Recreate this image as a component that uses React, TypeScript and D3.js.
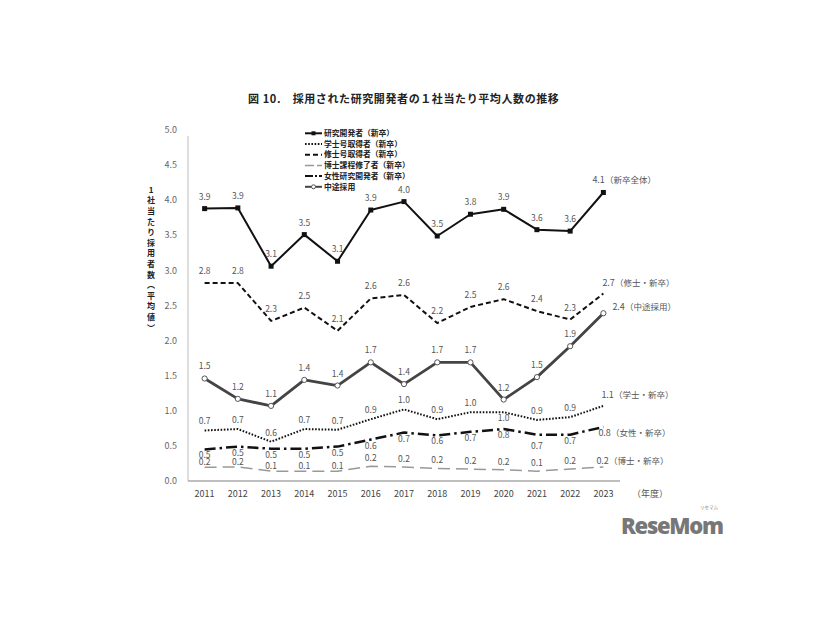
import React from "react";
import * as d3 from "d3";

const years = ["2011","2012","2013","2014","2015","2016","2017","2018","2019","2020","2021","2022","2023"];
const yTicks = [0, 0.5, 1, 1.5, 2, 2.5, 3, 3.5, 4, 4.5, 5];

const kenkyuValues = [3.88,3.89,3.06,3.51,3.13,3.86,3.98,3.49,3.80,3.87,3.58,3.56,4.11];
const kenkyuLabels = ["3.9","3.9","3.1","3.5","3.1","3.9","4.0","3.5","3.8","3.9","3.6","3.6","4.1"];
const gakushiValues = [0.72,0.74,0.56,0.74,0.73,0.88,1.02,0.88,0.98,0.98,0.87,0.91,1.07];
const gakushiLabels = ["0.7","0.7","0.6","0.7","0.7","0.9","1.0","0.9","1.0","1.0","0.9","0.9","1.1"];
const shushiValues = [2.82,2.82,2.28,2.47,2.14,2.60,2.65,2.25,2.48,2.59,2.42,2.30,2.67];
const shushiLabels = ["2.8","2.8","2.3","2.5","2.1","2.6","2.6","2.2","2.5","2.6","2.4","2.3","2.7"];
const hakaseValues = [0.195,0.2,0.14,0.14,0.14,0.21,0.2,0.18,0.17,0.16,0.14,0.17,0.2];
const hakaseLabels = ["0.2","0.2","0.1","0.1","0.1","0.2","0.2","0.2","0.2","0.2","0.1","0.2","0.2"];
const joseiValues = [0.45,0.49,0.46,0.46,0.49,0.59,0.69,0.65,0.70,0.74,0.66,0.66,0.77];
const joseiLabels = ["0.5","0.5","0.5","0.5","0.5","0.6","0.7","0.6","0.7","0.8","0.7","0.7","0.8"];
const chutoValues = [1.46,1.17,1.07,1.44,1.36,1.69,1.38,1.69,1.69,1.16,1.48,1.92,2.39];
const chutoLabels = ["1.5","1.2","1.1","1.4","1.4","1.7","1.4","1.7","1.7","1.2","1.5","1.9","2.4"];

const seriesNames = ["研究開発者（新卒）","学士号取得者（新卒）","修士号取得者（新卒）","博士課程修了者（新卒）","女性研究開発者（新卒）","中途採用"];
const endSuffixes = ["（新卒全体）","（学士・新卒）","（修士・新卒）","（博士・新卒）","（女性・新卒）","（中途採用）"];

const title = "図 10.　採用された研究開発者の１社当たり平均人数の推移";
const yTitleChars = ["1","社","当","た","り","採","用","者","数","︵","平","均","値","︶"];

type St = {
  stroke: string; width: number; dash?: string; marker?: "square" | "circle";
  dy: number; endDx: number; endDy: number;
};

const styles: St[] = [
  { stroke: "#111", width: 2, marker: "square", dy: -12, endDx: -11, endDy: -13 },
  { stroke: "#111", width: 2, dash: "1.6,1.6", dy: -9, endDx: -2, endDy: -11 },
  { stroke: "#111", width: 2, dash: "5,3", dy: -12, endDx: -1, endDy: -11 },
  { stroke: "#999", width: 1.5, dash: "12,6", dy: -5, endDx: -7, endDy: -6 },
  { stroke: "#111", width: 2.5, dash: "11,4,2.5,4", dy: 6, endDx: -5, endDy: 6 },
  { stroke: "#444", width: 2.8, marker: "circle", dy: -12, endDx: 9, endDy: -6 },
];

const seriesValues = [kenkyuValues, gakushiValues, shushiValues, hakaseValues, joseiValues, chutoValues];
const seriesLabels = [kenkyuLabels, gakushiLabels, shushiLabels, hakaseLabels, joseiLabels, chutoLabels];

const labelFont = "'Noto Sans CJK JP', 'Noto Sans', sans-serif";

export default function App() {
  const x = d3.scalePoint<string>().domain(years).range([188, 620]).padding(0.5);
  const y = d3.scaleLinear().domain([0, 5]).range([481, 130]);
  const line = d3.line<number>().x((_, i) => x(years[i]) as number).y((v) => y(v));
  const drawOrder = [3, 4, 1, 2, 5, 0];

  return (
    <svg width={826} height={620} style={{ position: "absolute", left: 0, top: 0, background: "#fff" }}
      fontFamily={labelFont}>
      <rect x={0} y={0} width={826} height={620} fill="#fff" />
      <text x={248} y={103} fontSize={11} fontWeight={700} fill="#222" letterSpacing={0.6}>{title}</text>

      {/* axes */}
      <line x1={188} x2={188} y1={136} y2={481} stroke="#c8c8c8" strokeWidth={1.2} />
      <line x1={188} x2={620} y1={481} y2={481} stroke="#aaa" strokeWidth={1.5} />
      {yTicks.map((t) => (
        <text key={t} x={177} y={y(t)} dy="0.35em" textAnchor="end" fontSize={9} fill="#666">{t.toFixed(1)}</text>
      ))}
      {years.map((yr) => (
        <text key={yr} x={x(yr)} y={494} dy="0.35em" textAnchor="middle" fontSize={9} fill="#444">{yr}</text>
      ))}
      <text x={632} y={494} dy="0.35em" fontSize={9} fill="#555">（年度）</text>

      {yTitleChars.map((c, i) => (
        <text key={i} x={151} y={190 + i * 10.6} dy="0.35em" textAnchor="middle" fontSize={8} fontWeight={700} fill="#222">{c}</text>
      ))}

      {/* series */}
      {drawOrder.map((si) => {
        const st = styles[si];
        const vals = seriesValues[si];
        return (
          <g key={si}>
            <path d={line(vals) || ""} fill="none" stroke={st.stroke} strokeWidth={st.width}
              strokeDasharray={st.dash} strokeLinejoin="round" />
            {st.marker === "square" && vals.map((v, i) => (
              <rect key={i} x={(x(years[i]) as number) - 2.5} y={y(v) - 2.5} width={5} height={5} fill="#111" />
            ))}
            {st.marker === "circle" && vals.map((v, i) => (
              <circle key={i} cx={x(years[i]) as number} cy={y(v)} r={2.6} fill="#fff" stroke="#555" strokeWidth={1} />
            ))}
          </g>
        );
      })}

      {/* data labels */}
      {seriesLabels.map((labels, si) => {
        const st = styles[si];
        const vals = seriesValues[si];
        return labels.map((lab, i) => {
          const px = x(years[i]) as number;
          const py = y(vals[i]);
          if (i === labels.length - 1) {
            return (
              <text key={si + "-" + i} x={px + st.endDx} y={py + st.endDy} dy="0.35em" fontSize={9} fill="#555">
                {lab}<tspan fontSize={8.5}>{endSuffixes[si]}</tspan>
              </text>
            );
          }
          const dy = si === 1 && i === 9 ? 6 : si === 4 && i === 10 ? 11 : si === 3 && i >= 5 ? -8 : st.dy;
          return (
            <text key={si + "-" + i} x={px} y={py + dy} dy="0.35em" textAnchor="middle" fontSize={8.5} fill="#555">{lab}</text>
          );
        });
      })}

      {/* legend */}
      {seriesNames.map((n, i) => {
        const st = styles[i];
        const ly = 133.3 + i * 10.7;
        return (
          <g key={n}>
            <line x1={305} x2={322} y1={ly} y2={ly} stroke={st.stroke} strokeWidth={Math.min(st.width, 2)}
              strokeDasharray={st.dash ? (i === 4 ? "8,2,2,2" : i === 3 ? "9,3" : st.dash) : undefined} />
            {st.marker === "square" && <rect x={311.5} y={ly - 2} width={4} height={4} fill="#111" />}
            {st.marker === "circle" && <circle cx={313.5} cy={ly} r={2} fill="#fff" stroke="#555" strokeWidth={1} />}
            <text x={324} y={ly} dy="0.35em" fontSize={7.8} fontWeight={700} fill="#222">{n}</text>
          </g>
        );
      })}

      {/* watermark */}
      <text x={621} y={534} fontFamily="'Open Sans', 'Noto Sans', sans-serif" fontSize={22} fontWeight={800}
        fill="#777" letterSpacing={-1.3}>ReseMom</text>
      <text x={700} y={509} fontSize={4.5} fill="#888">リセマム</text>
    </svg>
  );
}
